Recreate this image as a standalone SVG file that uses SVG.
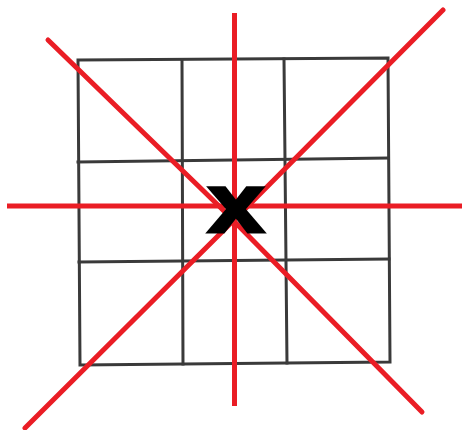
<svg xmlns="http://www.w3.org/2000/svg" width="462" height="430" viewBox="0 0 462 430">
  <style>
    .grid { stroke: #3a3a3a; stroke-width: 3; fill: none; stroke-linecap: square; }
    .red { stroke: #ea1d25; stroke-width: 5; fill: none; stroke-linecap: round; stroke-linejoin: round; }
    .redv { stroke: #ea1d25; stroke-width: 5; fill: none; stroke-linecap: butt; }
    .mark { font-family: "Liberation Sans", Arial, sans-serif; font-weight: bold; font-size: 84px; fill: #000; stroke: #000; stroke-width: 3; stroke-linejoin: miter; }
  </style>
  <rect width="462" height="430" fill="#ffffff"/>
  <g id="grid">
    <polygon class="grid" points="78,60 388,58 390,362 80,365"/>
    <line class="grid" x1="182" y1="60" x2="183" y2="364"/>
    <line class="grid" x1="284" y1="59" x2="287" y2="363"/>
    <line class="grid" x1="78" y1="162" x2="388" y2="158"/>
    <line class="grid" x1="79" y1="262" x2="389" y2="259"/>
  </g>
  <g id="connectors">
    <line class="redv" x1="234.5" y1="13" x2="234.5" y2="406"/>
    <line class="redv" x1="7" y1="206" x2="462" y2="206"/>
    <polyline class="red" points="48,40 220,207 422,412"/>
    <polyline class="red" points="443,10 240,214 25,428"/>
  </g>
  <g id="center-mark">
    <text class="mark" transform="translate(236,232) scale(1.2,1)" text-anchor="middle">x</text>
  </g>
</svg>
